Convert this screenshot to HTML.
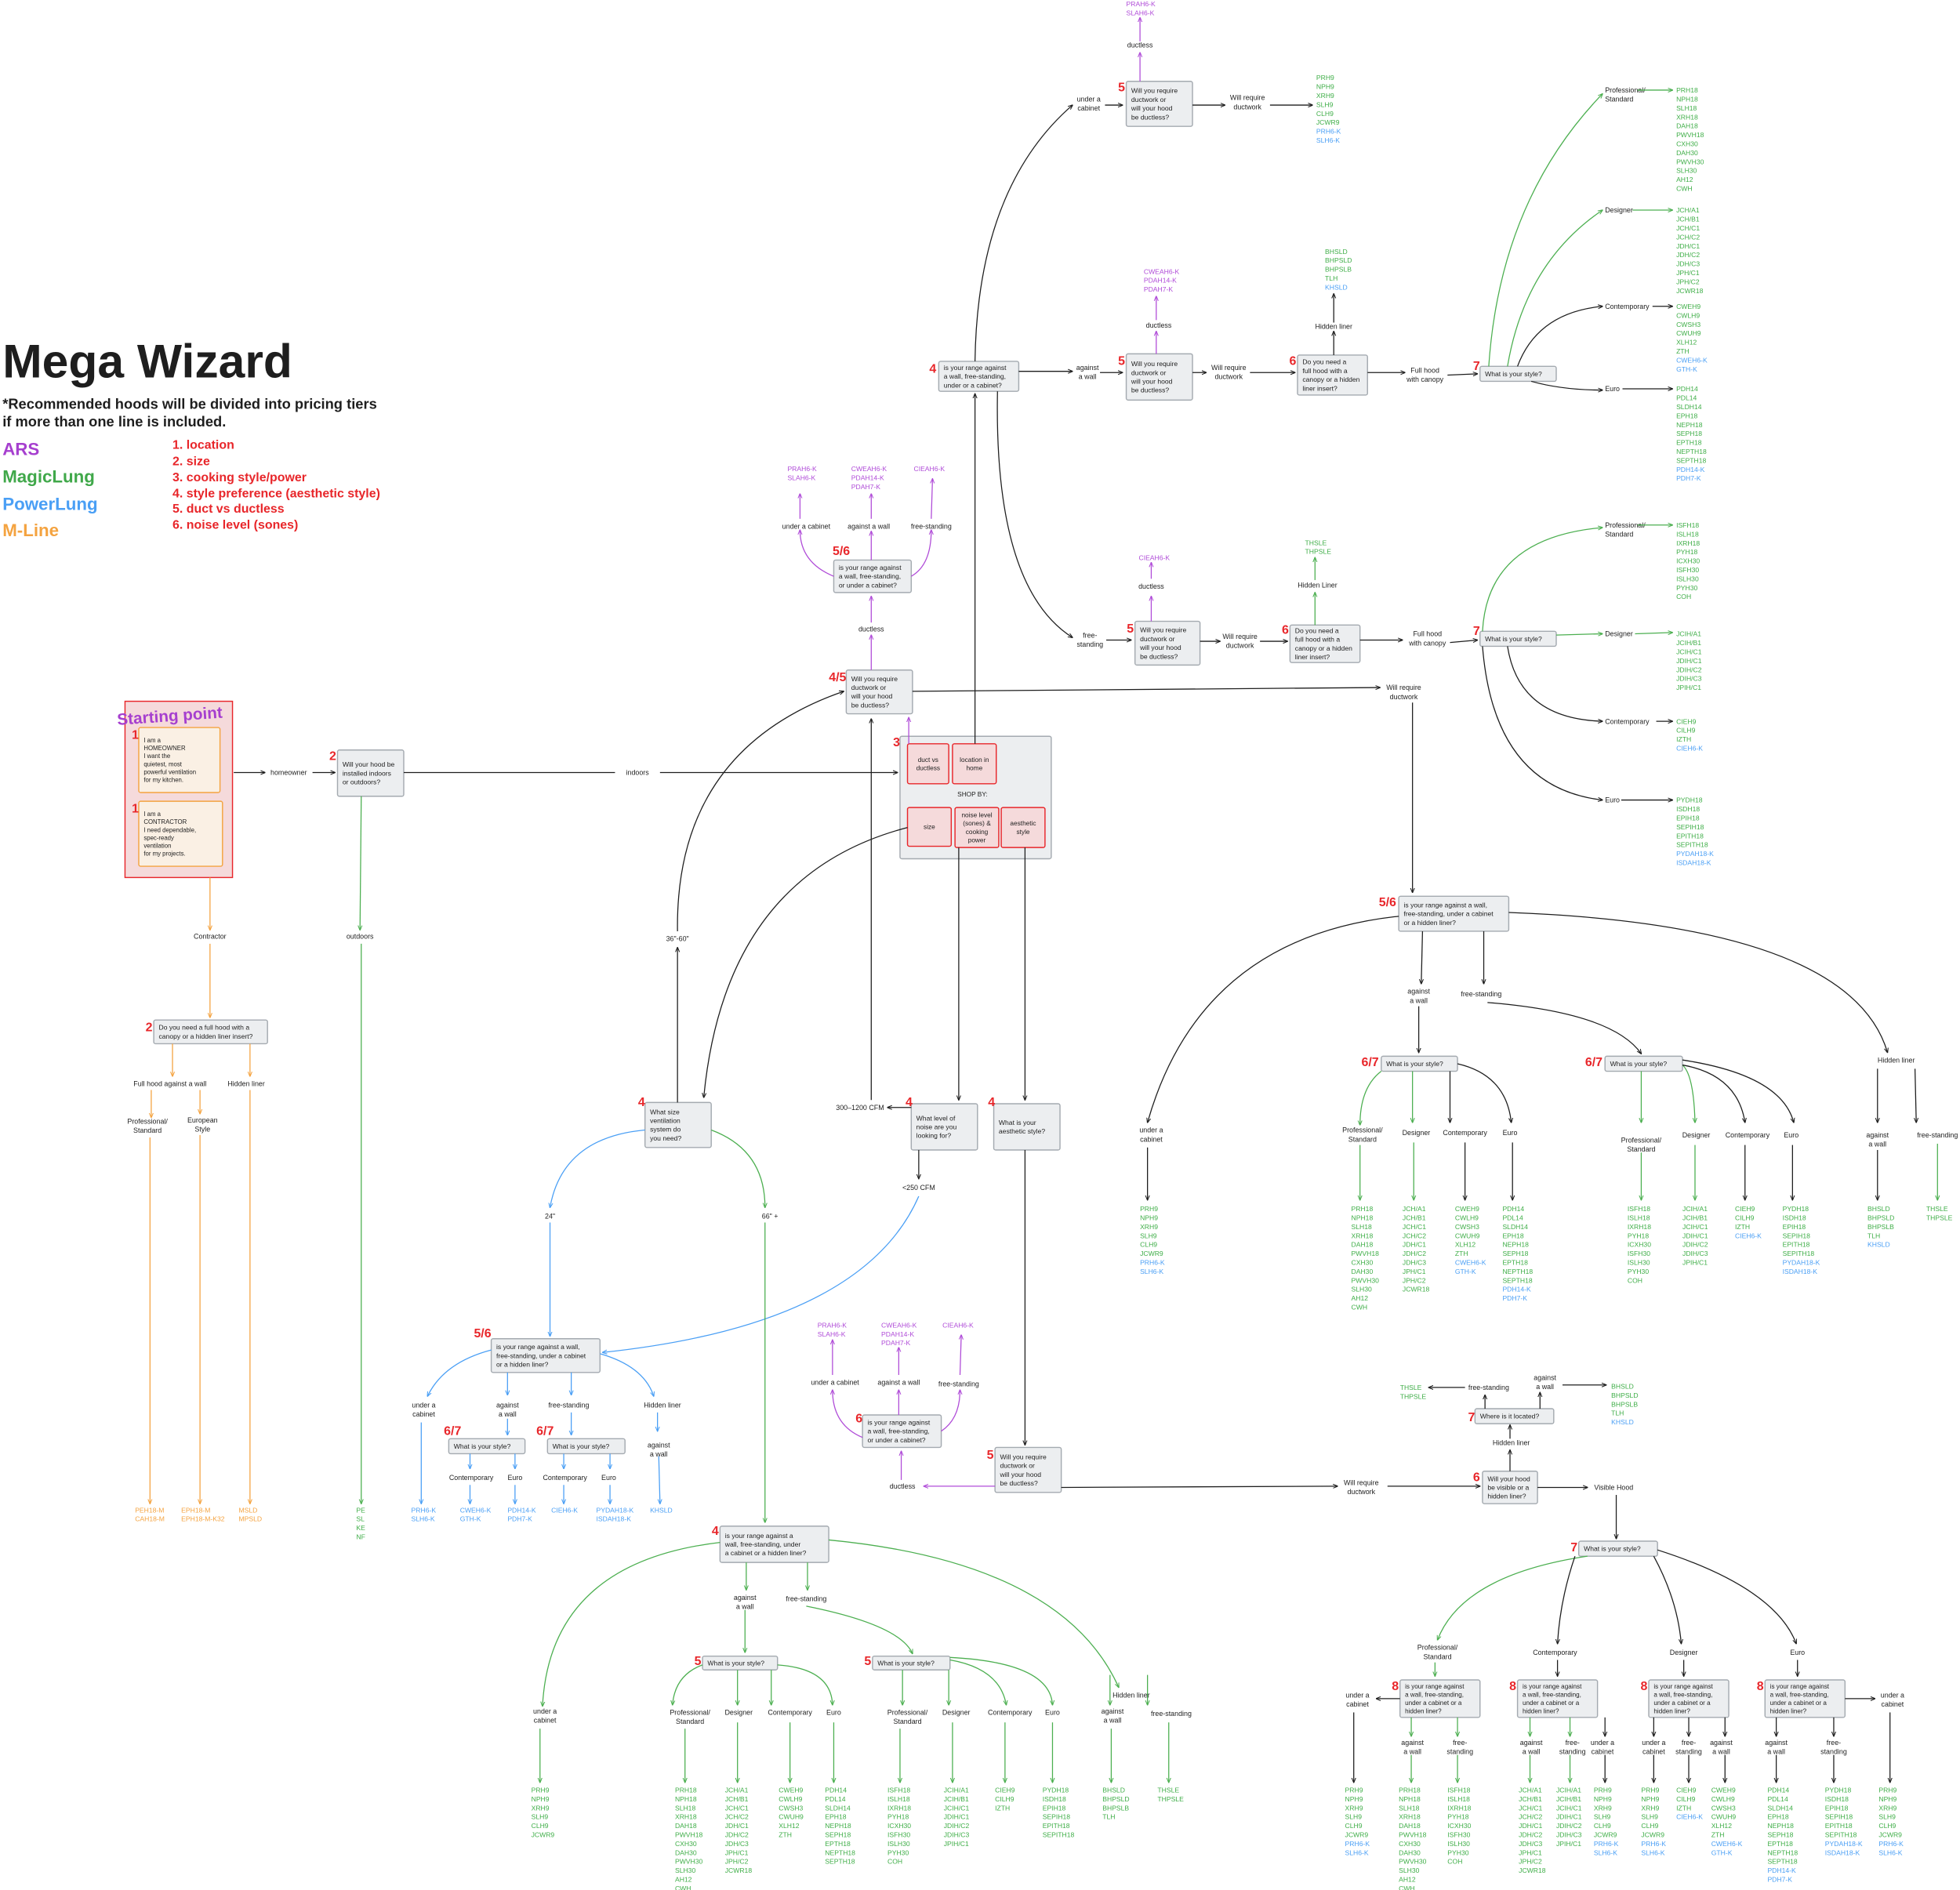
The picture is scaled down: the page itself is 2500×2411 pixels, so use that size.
<!DOCTYPE html>
<html><head><meta charset="utf-8"><style>
html,body{margin:0;padding:0;background:#fff;}
svg{display:block;}
text{font-family:"Liberation Sans",sans-serif;}
</style></head><body>
<svg id="s" xmlns="http://www.w3.org/2000/svg" width="2500" height="2411" viewBox="0 0 1568 1512">
<defs>
<marker id="mk" viewBox="0 0 10 10" refX="9" refY="5" markerWidth="5" markerHeight="5" orient="auto"><path d="M0,1 L10,5 L0,9" fill="none" stroke="#1e1e1e" stroke-width="1.6"/></marker>
<marker id="mg" viewBox="0 0 10 10" refX="9" refY="5" markerWidth="5" markerHeight="5" orient="auto"><path d="M0,1 L10,5 L0,9" fill="none" stroke="#4caf50" stroke-width="1.6"/></marker>
<marker id="mb" viewBox="0 0 10 10" refX="9" refY="5" markerWidth="5" markerHeight="5" orient="auto"><path d="M0,1 L10,5 L0,9" fill="none" stroke="#4a9ff5" stroke-width="1.6"/></marker>
<marker id="mp" viewBox="0 0 10 10" refX="9" refY="5" markerWidth="5" markerHeight="5" orient="auto"><path d="M0,1 L10,5 L0,9" fill="none" stroke="#b04cd8" stroke-width="1.6"/></marker>
<marker id="mo" viewBox="0 0 10 10" refX="9" refY="5" markerWidth="5" markerHeight="5" orient="auto"><path d="M0,1 L10,5 L0,9" fill="none" stroke="#f4a340" stroke-width="1.6"/></marker>
</defs>
<g id="g"></g>
<text x="2" y="302" font-size="38" font-weight="bold" fill="#1e1e1e">Mega Wizard</text>
<text x="2" y="327" font-size="11.5" font-weight="bold" fill="#1e1e1e">*Recommended hoods will be divided into pricing tiers</text>
<text x="2" y="341" font-size="11.5" font-weight="bold" fill="#1e1e1e">if more than one line is included.</text>
<text x="2" y="364" font-size="14" font-weight="bold" fill="#a63fcf">ARS</text>
<text x="2" y="386" font-size="14" font-weight="bold" fill="#40a84a">MagicLung</text>
<text x="2" y="408" font-size="14" font-weight="bold" fill="#4a9ff5">PowerLung</text>
<text x="2" y="429" font-size="14" font-weight="bold" fill="#f4a340">M-Line</text>
<g font-size="10" fill="#e8262a" font-weight="bold">
<text x="138" y="359">1. location</text><text x="138" y="372">2. size</text><text x="138" y="385">3. cooking style/power</text>
<text x="138" y="398">4. style preference (aesthetic style)</text><text x="138" y="410">5. duct vs ductless</text><text x="138" y="423">6. noise level (sones)</text>
</g>
</svg>
<script>
var G=document.getElementById('g'),NS='http://www.w3.org/2000/svg';
var C={k:'#1e1e1e',g:'#4caf50',b:'#4a9ff5',p:'#b04cd8',o:'#f4a340'};
var LC={g:'#3fae48',b:'#4a9ff5',p:'#b04cd8'};
function el(t,a,txt){var e=document.createElementNS(NS,t);for(var k in a)e.setAttribute(k,a[k]);if(txt!=null)e.textContent=txt;G.appendChild(e);return e;}
function P(d,c,noarr){el('path',{d:d,fill:'none',stroke:C[c||'k'],'stroke-width':0.8,'marker-end':noarr?'':'url(#m'+(c||'k')+')'});}
function L(x1,y1,x2,y2,c,n){P('M'+x1+' '+y1+' L'+x2+' '+y2,c,n);}
function Q(x1,y1,cx,cy,x2,y2,c){P('M'+x1+' '+y1+' Q'+cx+' '+cy+' '+x2+' '+y2,c);}
function T(x,y,s,opt){opt=opt||{};var lines=s.split('|');var fs=opt.fs||5.6,lh=opt.lh||fs*1.3;
 for(var i=0;i<lines.length;i++)el('text',{x:x,y:y+i*lh,'font-size':fs,fill:opt.c||'#1e1e1e','text-anchor':opt.a||'middle','font-weight':opt.w||'normal'},lines[i]);}
function N(x,y,s){el('text',{x:x,y:y,'font-size':10,fill:'#e8262a','text-anchor':'end','font-weight':'bold'},s);}
function B(x1,y1,x2,y2,s,opt){opt=opt||{};el('rect',{x:x1,y:y1,width:x2-x1,height:y2-y1,rx:1.5,fill:opt.f||'#eceef0',stroke:opt.s||'#a4aab0','stroke-width':0.9});
 var lines=s.split('|'),fs=opt.fs||5.4,lh=fs*1.3,h=(lines.length-1)*lh;
 if(opt.center)T((x1+x2)/2,(y1+y2)/2-h/2+fs*0.35,s,{fs:fs,lh:lh});else T(x1+4,(y1+y2)/2-h/2+fs*0.35,s,{fs:fs,lh:lh,a:'start',w:opt.w});}
function LS(x,y,s,def,anchor,noblue){var it=s.split(' '),yy=y;for(var i=0;i<it.length;i++){var t=it[i],c=def||'g';
 if(t[0]=='*'){if(noblue)continue;t=t.slice(1);c='b';}
 el('text',{x:x,y:yy,'font-size':5.4,fill:LC[c],'text-anchor':anchor||'start'},t);yy+=7.15;}}
var PRO='PRH18 NPH18 SLH18 XRH18 DAH18 PWVH18 CXH30 DAH30 PWVH30 SLH30 AH12 CWH',
DES='JCH/A1 JCH/B1 JCH/C1 JCH/C2 JDH/C1 JDH/C2 JDH/C3 JPH/C1 JPH/C2 JCWR18',
CON='CWEH9 CWLH9 CWSH3 CWUH9 XLH12 ZTH *CWEH6-K *GTH-K',
EURO='PDH14 PDL14 SLDH14 EPH18 NEPH18 SEPH18 EPTH18 NEPTH18 SEPTH18 *PDH14-K *PDH7-K',
IPRO='ISFH18 ISLH18 IXRH18 PYH18 ICXH30 ISFH30 ISLH30 PYH30 COH',
IDES='JCIH/A1 JCIH/B1 JCIH/C1 JDIH/C1 JDIH/C2 JDIH/C3 JPIH/C1',
ICON='CIEH9 CILH9 IZTH *CIEH6-K',
IEURO='PYDH18 ISDH18 EPIH18 SEPIH18 EPITH18 SEPITH18 *PYDAH18-K *ISDAH18-K',
UC='PRH9 NPH9 XRH9 SLH9 CLH9 JCWR9 *PRH6-K *SLH6-K',
HL='BHSLD BHPSLD BHPSLB TLH *KHSLD',FS='THSLE THPSLE';
var RNG='is your range against|a wall, free-standing,|under a cabinet or a|hidden liner?';
var DUCT='Will you require|ductwork or|will your hood|be ductless?';
var CAN='Do you need a|full hood with a|canopy or a hidden|liner insert?';

el('rect',{x:100,y:561,width:86,height:141,fill:'#f5dadb',stroke:'#e8262a','stroke-width':0.9});
el('text',{x:94,y:580,'font-size':13,fill:'#a63fcf','font-weight':'bold',transform:'rotate(-4 94 580)'},'Starting point');
B(111,582,176,634,'I am a|HOMEOWNER|I want the|quietest, most|powerful ventilation|for my kitchen.',{f:'#faf0e4',s:'#f4a340',fs:4.9});
B(111,641,178,693,'I am a|CONTRACTOR|I need dependable,|spec-ready|ventilation|for my projects.',{f:'#faf0e4',s:'#f4a340',fs:4.9});
N(111,591,'1');N(111,650,'1');
L(187,618,212,618);T(231,620,'homeowner');L(250,618,268,618);
B(270,600,323,637,'Will your hood be|installed indoors|or outdoors?');N(269,608,'2');
L(323,618,492,618,'k',1);T(510,620,'indoors');L(528,618,718,618);
L(289,637,288,744,'g');T(288,751,'outdoors');L(289,755,289,1203,'g');LS(285,1210,'PE SL KE NF');
L(168,702,168,744,'o');T(168,751,'Contractor');L(168,755,168,814,'o');
B(123,816,214,835,'Do you need a full hood with a|canopy or a hidden liner insert?');N(122,825,'2');
L(138,835,138,861,'o');T(136,869,'Full hood against a wall');L(200,835,200,861,'o');T(197,869,'Hidden liner');
L(121,872,121,894,'o');T(118,899,'Professional/|Standard');L(160,872,160,891,'o');T(162,898,'European|Style');
L(120,910,120,1203,'o');L(160,908,160,1203,'o');L(200,872,200,1203,'o');
el('text',{x:108,y:1210,'font-size':5.4,fill:'#f4a340'},'PEH18-M');el('text',{x:108,y:1217,'font-size':5.4,fill:'#f4a340'},'CAH18-M');
el('text',{x:145,y:1210,'font-size':5.4,fill:'#f4a340'},'EPH18-M');el('text',{x:145,y:1217,'font-size':5.4,fill:'#f4a340'},'EPH18-M-K32');
el('text',{x:191,y:1210,'font-size':5.4,fill:'#f4a340'},'MSLD');el('text',{x:191,y:1217,'font-size':5.4,fill:'#f4a340'},'MPSLD');

el('rect',{x:720,y:589,width:121,height:98,rx:1.5,fill:'#eceef0',stroke:'#a4aab0','stroke-width':0.9});
var R={f:'#f5dadb',s:'#e8262a',center:1,fs:5.2};
B(726,595,759,627,'duct vs|ductless',R);B(762,595,797,627,'location in|home',R);
T(778,637,'SHOP BY:',{fs:5.2});
B(726,646,761,677,'size',R);B(764,646,799,678,'noise level|(sones) &|cooking|power',R);B(801,646,836,678,'aesthetic|style',R);
N(720,597,'3');
L(727,595,727,574,'p');L(780,595,780,315);
B(677,536,730,571,DUCT);N(677,545,'4/5');
L(730,553,1104,550);T(1123,552,'Will require|ductwork',{a:'middle'});L(1130,562,1130,714);
L(697,536,697,508,'p');T(697,505,'ductless');L(697,498,697,477,'p');
B(667,448,729,474,'is your range against|a wall, free-standing,|or under a cabinet?');N(680,444,'5/6');
Q(667,461,640,450,640,424,'p');Q(697,448,697,440,697,425,'p');Q(729,461,745,452,745,424,'p');
T(645,423,'under a cabinet');T(695,423,'against a wall');T(745,423,'free-standing');
L(640,415,640,395,'p');L(697,415,697,395,'p');L(745,415,746,383,'p');
LS(630,377,'PRAH6-K SLAH6-K','p');LS(681,377,'CWEAH6-K PDAH14-K PDAH7-K','p');LS(731,377,'CIEAH6-K','p');
Q(726,662,580,700,563,878);B(516,882,569,918,'What size|ventilation|system do|you need?');N(516,885,'4');
L(542,882,542,758);T(542,753,"36\"-60\"");Q(542,745,540,600,675,553);
Q(516,904,450,910,440,966,'b');T(440,975,'24"');Q(569,904,612,920,612,966,'g');T(616,975,'66" +');
L(697,880,697,575);T(688,888,'300\u20131200 CFM');
B(729,883,782,920,'What level of|noise are you|looking for?');N(730,885,'4');L(767,678,767,880);L(729,886,710,886);
L(735,920,735,943);T(735,952,'<250 CFM');Q(735,957,690,1060,482,1082,'b');
B(795,883,848,920,'What is your|aesthetic style?');N(796,885,'4');L(820,678,820,880);L(820,920,820,1156);
B(796,1158,849,1194,DUCT);N(795,1167,'5');
L(796,1189,739,1189,'p');T(722,1191,'ductless');L(721,1184,721,1161,'p');
B(690,1132,753,1158,'is your range against|a wall, free-standing,|or under a cabinet?');N(690,1138,'6');
Q(690,1150,666,1140,666,1112,'p');L(719,1132,719,1112,'p');Q(753,1145,768,1135,768,1112,'p');
T(668,1108,'under a cabinet');T(719,1108,'against a wall');T(767,1109,'free-standing');
L(666,1100,666,1072,'p');L(719,1100,719,1078,'p');L(768,1100,769,1068,'p');
LS(654,1062,'PRAH6-K SLAH6-K','p');LS(705,1062,'CWEAH6-K PDAH14-K PDAH7-K','p');LS(754,1062,'CIEAH6-K','p');
L(849,1190,1070,1189);T(1089,1188,'Will require|ductwork');L(1110,1189,1184,1189);
B(1186,1177,1230,1203,'Will your hood|be visible or a|hidden liner?');N(1184,1185,'6');
L(1230,1190,1270,1190);T(1291,1192,'Visible Hood');L(1293,1196,1293,1231);
L(1208,1177,1208,1160);T(1209,1156,'Hidden liner');L(1208,1151,1208,1140);
B(1180,1127,1243,1139,'Where is it located?');N(1180,1137,'7');
L(1188,1127,1188,1116);T(1191,1112,'free-standing');L(1172,1110,1143,1110);LS(1120,1112,FS);
L(1232,1127,1232,1114);T(1236,1104,'against|a wall');L(1250,1108,1285,1108);LS(1289,1111,HL);
B(393,1071,480,1098,'is your range against a wall,|free-standing, under a cabinet|or a hidden liner?');N(393,1070,'5/6');
L(440,978,440,1069,'b');
Q(393,1080,355,1090,342,1117,'b');L(406,1098,406,1116,'b');L(457,1098,457,1116,'b');Q(480,1083,515,1093,523,1117,'b');
T(339,1126,'under a|cabinet');T(406,1126,'against|a wall');T(455,1126,'free-standing');T(530,1126,'Hidden liner');
L(337,1138,337,1203,'b');LS(329,1210,'*PRH6-K *SLH6-K','b');
L(406,1135,406,1148,'b');B(359,1151,420,1163,'What is your style?');N(369,1148,'6/7');
L(376,1163,376,1175,'b');L(412,1163,412,1175,'b');T(377,1184,'Contemporary');T(412,1184,'Euro');
L(376,1188,376,1203,'b');L(412,1188,412,1203,'b');LS(368,1210,'*CWEH6-K *GTH-K','b');LS(406,1210,'*PDH14-K *PDH7-K','b');
L(457,1130,457,1148,'b');B(438,1151,500,1163,'What is your style?');N(443,1148,'6/7');
L(451,1163,451,1175,'b');L(488,1163,488,1175,'b');T(452,1184,'Contemporary');T(487,1184,'Euro');
L(451,1188,451,1203,'b');L(488,1188,488,1203,'b');LS(441,1210,'*CIEH6-K','b');LS(477,1210,'*PYDAH18-K *ISDAH18-K','b');
L(526,1130,526,1145,'b');T(527,1158,'against|a wall');L(527,1165,528,1203,'b');LS(520,1210,'*KHSLD','b');
L(612,978,612,1218,'g');B(576,1221,663,1250,'is your range against a|wall, free-standing, under|a cabinet or a hidden liner?');N(575,1228,'4');
Q(576,1234,440,1250,434,1365,'g');L(597,1250,597,1272,'g');L(646,1250,646,1272,'g');Q(663,1232,850,1250,895,1350,'g');
T(436,1371,'under a|cabinet');T(596,1280,'against|a wall');T(645,1281,'free-standing');T(905,1358,'Hidden liner');
L(432,1383,432,1426,'g');LS(425,1434,UC,'g','start',1);
L(596,1288,596,1322,'g');B(562,1325,622,1336,'What is your style?');N(561,1332,'5');
Q(645,1285,720,1300,730,1323,'g');B(698,1325,760,1336,'What is your style?');N(697,1332,'5');
Q(562,1332,540,1340,538,1364,'g');L(590,1336,590,1364,'g');L(617,1336,617,1364,'g');Q(622,1332,665,1335,666,1364,'g');
T(552,1372,'Professional/|Standard');T(591,1372,'Designer');T(632,1372,'Contemporary');T(667,1372,'Euro');
L(548,1383,548,1426,'g');L(590,1378,590,1426,'g');L(632,1378,632,1426,'g');L(667,1378,667,1426,'g');
LS(540,1434,PRO,'g','start',1);LS(580,1434,DES);LS(623,1434,CON,'g','start',1);LS(660,1434,EURO,'g','start',1);
L(722,1336,722,1364,'g');L(759,1336,759,1364,'g');Q(760,1328,800,1335,805,1364,'g');Q(760,1326,840,1330,842,1364,'g');
T(726,1372,'Professional/|Standard');T(765,1372,'Designer');T(808,1372,'Contemporary');T(842,1372,'Euro');
L(720,1383,720,1426,'g');L(762,1378,762,1426,'g');L(804,1378,804,1426,'g');L(842,1378,842,1426,'g');
LS(710,1434,IPRO);LS(755,1434,IDES);LS(796,1434,ICON,'g','start',1);LS(834,1434,IEURO,'g','start',1);
L(888,1340,888,1364,'g');L(918,1340,918,1364,'g');T(890,1371,'against|a wall');T(937,1373,'free-standing');
L(889,1383,889,1426,'g');L(935,1378,935,1426,'g');LS(882,1434,HL,'g','start',1);LS(926,1434,FS);
B(751,289,815,313,'is your range against|a wall, free-standing,|under or a cabinet?');N(749,298,'4');
Q(780,289,782,150,858,84);T(871,81,'under a|cabinet');L(884,84,898,84);
B(901,65,954,101,DUCT);N(900,73,'5');L(912,65,912,42,'p');T(912,38,'ductless');L(912,33,912,14,'p');LS(901,5,'PRAH6-K SLAH6-K','p');
L(954,84,980,84);T(998,80,'Will require|ductwork');L(1016,84,1050,84);LS(1053,64,UC);
L(815,297,858,297);T(870,296,'against|a wall');L(880,298,898,298);
B(901,283,954,320,DUCT);N(900,292,'5');L(925,283,925,265,'p');T(927,262,'ductless');L(925,256,925,237,'p');LS(915,219,'CWEAH6-K PDAH14-K PDAH7-K','p');
L(954,298,965,298);T(983,296,'Will require|ductwork');L(1000,298,1036,298);
B(1038,284,1094,316,CAN);N(1037,292,'6');L(1067,284,1067,265);T(1067,263,'Hidden liner');L(1067,258,1067,235);LS(1060,203,HL);
L(1094,298,1124,298);T(1140,298,'Full hood|with canopy');L(1158,300,1182,299);
B(1184,293,1245,305,'What is your style?');N(1184,296,'7');
Q(1191,293,1200,160,1282,75,'g');Q(1206,293,1220,210,1282,168,'g');Q(1214,293,1230,250,1282,245,'k');Q(1225,305,1250,312,1282,312,'k');
T(1284,74,'Professional/|Standard',{a:'start'});T(1284,170,'Designer',{a:'start'});T(1284,247,'Contemporary',{a:'start'});T(1284,313,'Euro',{a:'start'});
L(1310,72,1338,72,'g');L(1306,168,1338,168,'g');L(1322,245,1338,245);L(1298,311,1338,311);
LS(1341,74,PRO);LS(1341,170,DES);LS(1341,247,CON);LS(1341,313,EURO);
Q(798,313,795,470,858,510);T(872,510,'free-|standing');L(885,512,905,512);
B(908,497,960,532,DUCT);N(907,506,'5');L(921,497,921,477,'p');T(921,471,'ductless');L(921,463,921,450,'p');LS(911,448,'CIEAH6-K','p');
L(960,513,976,513);T(992,511,'Will require|ductwork');L(1008,513,1030,513);
B(1032,500,1088,530,CAN);N(1031,507,'6');L(1052,500,1052,474,'g');T(1054,470,'Hidden Liner');L(1052,464,1052,446,'g');LS(1044,436,FS);
L(1088,512,1122,512);T(1142,509,'Full hood|with canopy');L(1160,514,1182,512);
B(1184,505,1245,517,'What is your style?');N(1184,508,'7');
Q(1186,505,1190,430,1282,422,'g');L(1245,508,1282,507,'g');Q(1206,517,1215,575,1282,577,'k');Q(1186,517,1195,630,1282,640,'k');
T(1284,422,'Professional/|Standard',{a:'start'});T(1284,509,'Designer',{a:'start'});T(1284,579,'Contemporary',{a:'start'});T(1284,642,'Euro',{a:'start'});
L(1310,420,1338,420,'g');L(1308,507,1338,506,'g');L(1325,577,1338,577);L(1297,640,1338,640);
LS(1341,422,IPRO);LS(1341,509,IDES);LS(1341,579,ICON);LS(1341,642,IEURO);
B(1119,717,1207,745,'is your range against a wall,|free-standing, under a cabinet|or a hidden liner?');N(1117,725,'5/6');
Q(1119,733,960,750,918,898);T(921,906,'under a|cabinet');L(918,918,918,960);LS(912,969,UC);
L(1138,745,1137,787);T(1135,795,'against|a wall');L(1135,805,1135,842);
L(1187,745,1187,787);T(1185,797,'free-standing');Q(1190,802,1290,810,1313,843);
Q(1207,730,1480,740,1510,842);T(1517,850,'Hidden liner');
B(1105,845,1166,857,'What is your style?');N(1103,853,'6/7');
Q(1105,857,1088,870,1088,900,'g');L(1130,857,1130,898,'g');L(1160,857,1160,898);Q(1166,851,1205,860,1209,898);
T(1090,906,'Professional/|Standard');T(1133,908,'Designer');T(1172,908,'Contemporary');T(1208,908,'Euro');
L(1088,916,1088,960,'g');L(1131,914,1131,960,'g');L(1172,914,1172,960);L(1210,914,1210,960);
LS(1081,969,PRO);LS(1122,969,DES);LS(1164,969,CON);LS(1202,969,EURO);
B(1284,845,1346,857,'What is your style?');N(1282,853,'6/7');
L(1313,857,1313,898,'g');Q(1346,852,1355,860,1356,898,'g');Q(1346,852,1390,860,1396,898);Q(1346,848,1425,860,1435,898);
T(1313,914,'Professional/|Standard');T(1357,910,'Designer');T(1398,910,'Contemporary');T(1433,910,'Euro');
L(1313,922,1313,960,'g');L(1356,916,1356,960,'g');L(1396,916,1396,960);L(1434,916,1434,960);
LS(1302,969,IPRO);LS(1346,969,IDES);LS(1388,969,ICON);LS(1426,969,IEURO);
L(1502,855,1502,898);L(1532,855,1533,898);T(1502,910,'against|a wall');T(1550,910,'free-standing');
L(1502,920,1502,960);L(1550,915,1550,960,'g');LS(1494,969,HL);LS(1541,969,FS);
B(1263,1233,1326,1245,'What is your style?');N(1262,1241,'7');
Q(1270,1245,1170,1260,1150,1312,'g');Q(1260,1245,1248,1280,1246,1315);Q(1323,1245,1342,1280,1345,1315);Q(1326,1240,1420,1270,1437,1315);
T(1150,1320,'Professional/|Standard');T(1244,1324,'Contemporary');T(1347,1324,'Designer');T(1438,1324,'Euro');
L(1148,1330,1148,1341,'g');L(1246,1328,1246,1341);L(1347,1328,1347,1341);L(1438,1328,1438,1341);
var bx=[1120,1214,1319,1412];for(var i=0;i<4;i++){B(bx[i],1344,bx[i]+64,1374,RNG,{fs:5.1});N(bx[i]-1,1352,'8');}
L(1120,1359,1101,1359);T(1086,1358,'under a|cabinet');L(1083,1370,1083,1426);LS(1076,1434,UC);
L(1129,1374,1129,1389,'g');L(1166,1374,1166,1389,'g');T(1130,1396,'against|a wall');T(1168,1396,'free-|standing');
L(1129,1404,1129,1426,'g');L(1166,1404,1166,1426,'g');LS(1119,1434,PRO);LS(1158,1434,IPRO);
L(1224,1374,1224,1389,'g');L(1256,1374,1256,1389,'g');L(1284,1374,1284,1389);T(1225,1396,'against|a wall');T(1258,1396,'free-|standing');T(1282,1396,'under a|cabinet');
L(1224,1404,1224,1426,'g');L(1256,1404,1256,1426,'g');L(1284,1404,1284,1426);LS(1215,1434,DES);LS(1245,1434,IDES);LS(1275,1434,UC);
L(1323,1374,1323,1389);L(1351,1374,1351,1389);L(1380,1374,1380,1389);T(1323,1396,'under a|cabinet');T(1351,1396,'free-|standing');T(1377,1396,'against|a wall');
L(1323,1404,1323,1426);L(1351,1404,1351,1426);L(1380,1404,1380,1426);LS(1313,1434,UC);LS(1341,1434,ICON);LS(1369,1434,CON);
L(1421,1374,1421,1389);L(1467,1374,1467,1389);T(1421,1396,'against|a wall');T(1467,1396,'free-|standing');
L(1421,1404,1421,1426);L(1467,1404,1467,1426);LS(1414,1434,EURO);LS(1460,1434,IEURO);
L(1476,1359,1500,1359);T(1514,1358,'under a|cabinet');L(1512,1370,1512,1426);LS(1503,1434,UC);
</script>
</body></html>
